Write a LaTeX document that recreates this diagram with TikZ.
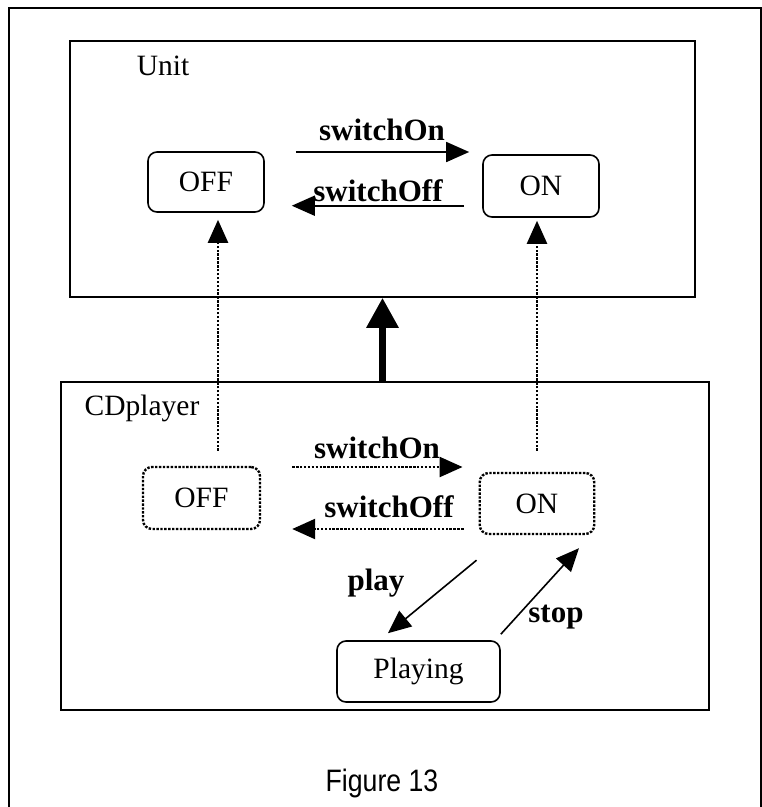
\documentclass[tikz,border=0pt]{standalone}
\usepackage{fontspec}
\setmainfont{Liberation Serif}
\newfontfamily\captionfont{Liberation Sans}
\usetikzlibrary{arrows.meta,calc}

\begin{document}
\begin{tikzpicture}[x=1pt,y=-1pt,
  outline/.style={draw,line width=1.8pt,inner sep=0pt},
  statebox/.style={draw,line width=1.6pt,rounded corners=9pt,inner sep=0pt,
    font=\fontsize{29.5}{34}\selectfont},
  ghostbox/.style={statebox,dash pattern=on 2.4pt off 1.5pt,line width=2.4pt},
  region/.style={font=\fontsize{29.5}{34}\selectfont,inner sep=0pt},
  evlabel/.style={font=\fontsize{31}{36}\selectfont\bfseries,inner sep=0pt},
  trans/.style={line width=1.6pt,-{Triangle[length=23pt,width=20pt]}},
  ghosttrans/.style={line width=2.4pt,dash pattern=on 2.4pt off 1.5pt,
    -{Triangle[length=23pt,width=20pt]}},
  inherit/.style={line width=6.5pt,-{Triangle[length=30pt,width=31pt]}}
]
\useasboundingbox (0,0) rectangle (762,807);

% open frame around the figure
\draw[line width=2pt] (9,807) -- (9,8) -- (761,8) -- (761,807);

% superstate Unit
\node[outline,minimum width=625pt,minimum height=256pt] (unit) at (382.5,169) {};
\node[region] (unitname) at (163,66) {Unit};
\node[statebox,minimum width=116pt,minimum height=60pt] (uoff) at (206,182) {OFF};
\node[statebox,minimum width=116pt,minimum height=62pt] (uon) at (541,186) {ON};

\draw[trans] ([xshift=31pt,yshift=30pt]uoff.east) -- ([xshift=-13pt,yshift=34pt]uon.west);
\draw[trans] ([xshift=-18pt,yshift=-19.7pt]uon.west) -- ([xshift=27pt,yshift=-23.7pt]uoff.east);
\node[evlabel] (uonlbl) at (382,130) {switchOn};
\node[evlabel] (uofflbl) at (378,191) {switchOff};

% substate CDplayer
\node[outline,minimum width=648pt,minimum height=328pt] (cd) at (385,546) {};
\node[region] (cdname) at (142,408) {CDplayer};
\node[ghostbox,minimum width=117pt,minimum height=62pt] (coff) at (201.5,498) {OFF};
\node[ghostbox,minimum width=114.5pt,minimum height=61pt] (con) at (537,503.5) {ON};
\node[statebox,minimum width=163pt,minimum height=61pt] (playing) at (418.5,671.5) {Playing};

\draw[ghosttrans] ([xshift=31pt,yshift=31pt]coff.east) -- ([xshift=-16pt,yshift=36.5pt]con.west);
\draw[ghosttrans] ([xshift=-15pt,yshift=-25.5pt]con.west) -- ([xshift=31pt,yshift=-31pt]coff.east);
\node[evlabel] (conlbl) at (377,448) {switchOn};
\node[evlabel] (cofflbl) at (389,507) {switchOff};

\draw[trans] ([xshift=-2pt,yshift=-25pt]con.south west) -- ([xshift=-30.5pt,yshift=7pt]playing.north);
\draw[trans] ([yshift=6pt]playing.north east) -- ([xshift=-16.5pt,yshift=-13pt]con.south east);
\node[evlabel] (playlbl) at (376,583) {play};
\node[evlabel] (stoplbl) at (556,617) {stop};

% refinement links and generalisation
\draw[ghosttrans,shorten <=15pt,shorten >=7pt] ([xshift=16.5pt]coff.north) -- ([xshift=12pt]uoff.south);
\draw[ghosttrans,shorten <=21pt,shorten >=3pt] (con.north) -- ([xshift=-4pt]uon.south);
\draw[inherit] (cd.north -| unit.south) -- (unit.south);

% caption
\node[font=\captionfont\fontsize{31}{36}\selectfont,inner sep=0pt] (caption) at (382,783)
  {\scalebox{0.86}[1]{Figure 13}};
\end{tikzpicture}
\end{document}
